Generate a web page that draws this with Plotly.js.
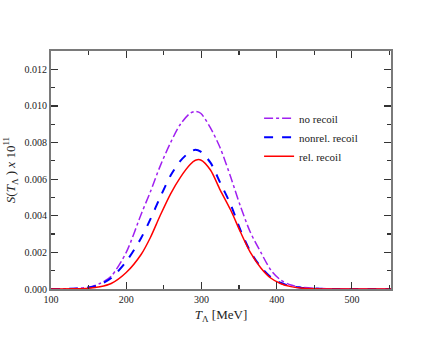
<!DOCTYPE html>
<html>
<head>
<meta charset="utf-8">
<script src="https://cdn.plot.ly/plotly-3.0.1.min.js"></script>
<style>
  html, body { margin: 0; padding: 0; background: #fff; }
  #graph { width: 440px; height: 340px; }
</style>
</head>
<body>
<div id="graph"></div>
<script>
// T_Lambda grid [MeV] and S(T_Lambda) x 10^11
const tLam = [100, 130, 150, 165, 180, 200, 220, 232, 245, 259, 272, 285, 292, 299,
              312, 325, 339, 352, 365, 379, 392, 405, 419, 432, 450, 480, 520, 552];
const noRecoil = [0, 0.00003, 0.0001, 0.0003, 0.0007, 0.0020, 0.0041, 0.0053, 0.0067, 0.0080,
                  0.0090, 0.0096, 0.0097, 0.0096, 0.0088, 0.0077, 0.0061, 0.0045, 0.0031, 0.0020,
                  0.00105, 0.0005, 0.00022, 0.0001, 0.00004, 0.00001, 0, 0];
const nonrelRecoil = [0, 0.00002, 0.00008, 0.00024, 0.0006, 0.0015, 0.0028, 0.0038, 0.0050, 0.0062,
                      0.0070, 0.0075, 0.0076, 0.0075, 0.0069, 0.0058, 0.0046, 0.0032, 0.00205, 0.0012,
                      0.00066, 0.00034, 0.00015, 0.00007, 0.00002, 0, 0, 0];
const relRecoil = [0, 0.00001, 0.00004, 0.00012, 0.0003, 0.0009, 0.0019, 0.0028, 0.0040, 0.0052,
                   0.0061, 0.0068, 0.00703, 0.00705, 0.0065, 0.0054, 0.0043, 0.0031, 0.0020, 0.00115,
                   0.0006, 0.0003, 0.00013, 0.00006, 0.00002, 0, 0, 0];
const names = ['no recoil', 'nonrel. recoil', 'rel. recoil'];

const serif = 'Liberation Serif';
const frame = '#7a7a7a';

let traces = [
    {x: tLam, y: noRecoil, name: names[0], mode: 'lines', legendgroup: 'a',
     line: {color: '#a020f0', width: 1.5, dash: 'dashdot', shape: 'spline', smoothing: 0.8}},
    {x: tLam, y: nonrelRecoil, name: names[1], mode: 'lines', legendgroup: 'b',
     line: {color: '#0000ff', width: 2, dash: 'dash', shape: 'spline', smoothing: 0.8}},
    {x: tLam, y: relRecoil, name: names[2], mode: 'lines', legendgroup: 'c',
     line: {color: '#ff0000', width: 1.5, shape: 'spline', smoothing: 0.8}}
];

let axisCommon = {
    showline: true, linecolor: frame, linewidth: 2, mirror: 'allticks',
    ticks: 'inside', ticklen: 7, tickwidth: 1.2, tickcolor: '#333',
    showgrid: false, zeroline: false,
    tickfont: {family: serif, size: 10, color: '#222'}
};

let myLayout = {
    width: 440, height: 340,
    margin: {l: 51, r: 49, t: 51, b: 51},
    paper_bgcolor: '#fff', plot_bgcolor: '#fff',
    showlegend: true,
    legend: {
        x: 0.612, y: 0.778, xanchor: 'left', yanchor: 'top',
        bgcolor: 'rgba(0,0,0,0)', borderwidth: 0,
        tracegroupgap: 1.5, traceorder: 'normal',
        font: {family: serif, size: 11, color: '#222'}
    },
    xaxis: Object.assign({}, axisCommon, {
        range: [100, 552], tick0: 100, dtick: 100,
        minor: {ticks: 'inside', ticklen: 4, tickcolor: '#333', dtick: 50, tick0: 100, showgrid: false},
        title: {text: '<i>T</i><sub>Λ</sub> [MeV]', font: {family: serif, size: 13, color: '#222'}, standoff: 6}
    }),
    yaxis: Object.assign({}, axisCommon, {
        range: [0, 0.013], tick0: 0, dtick: 0.002, tickformat: '.3f',
        minor: {ticks: 'inside', ticklen: 4, tickcolor: '#333', dtick: 0.001, tick0: 0, showgrid: false},
        title: {text: '<i>S</i>(<i>T</i><sub>Λ</sub> ) <i>x</i> 10<sup>11</sup>', font: {family: serif, size: 13, color: '#222'}, standoff: 6}
    })
};

Plotly.newPlot('graph', traces, myLayout, {staticPlot: true, displayModeBar: false});
</script>
</body>
</html>
